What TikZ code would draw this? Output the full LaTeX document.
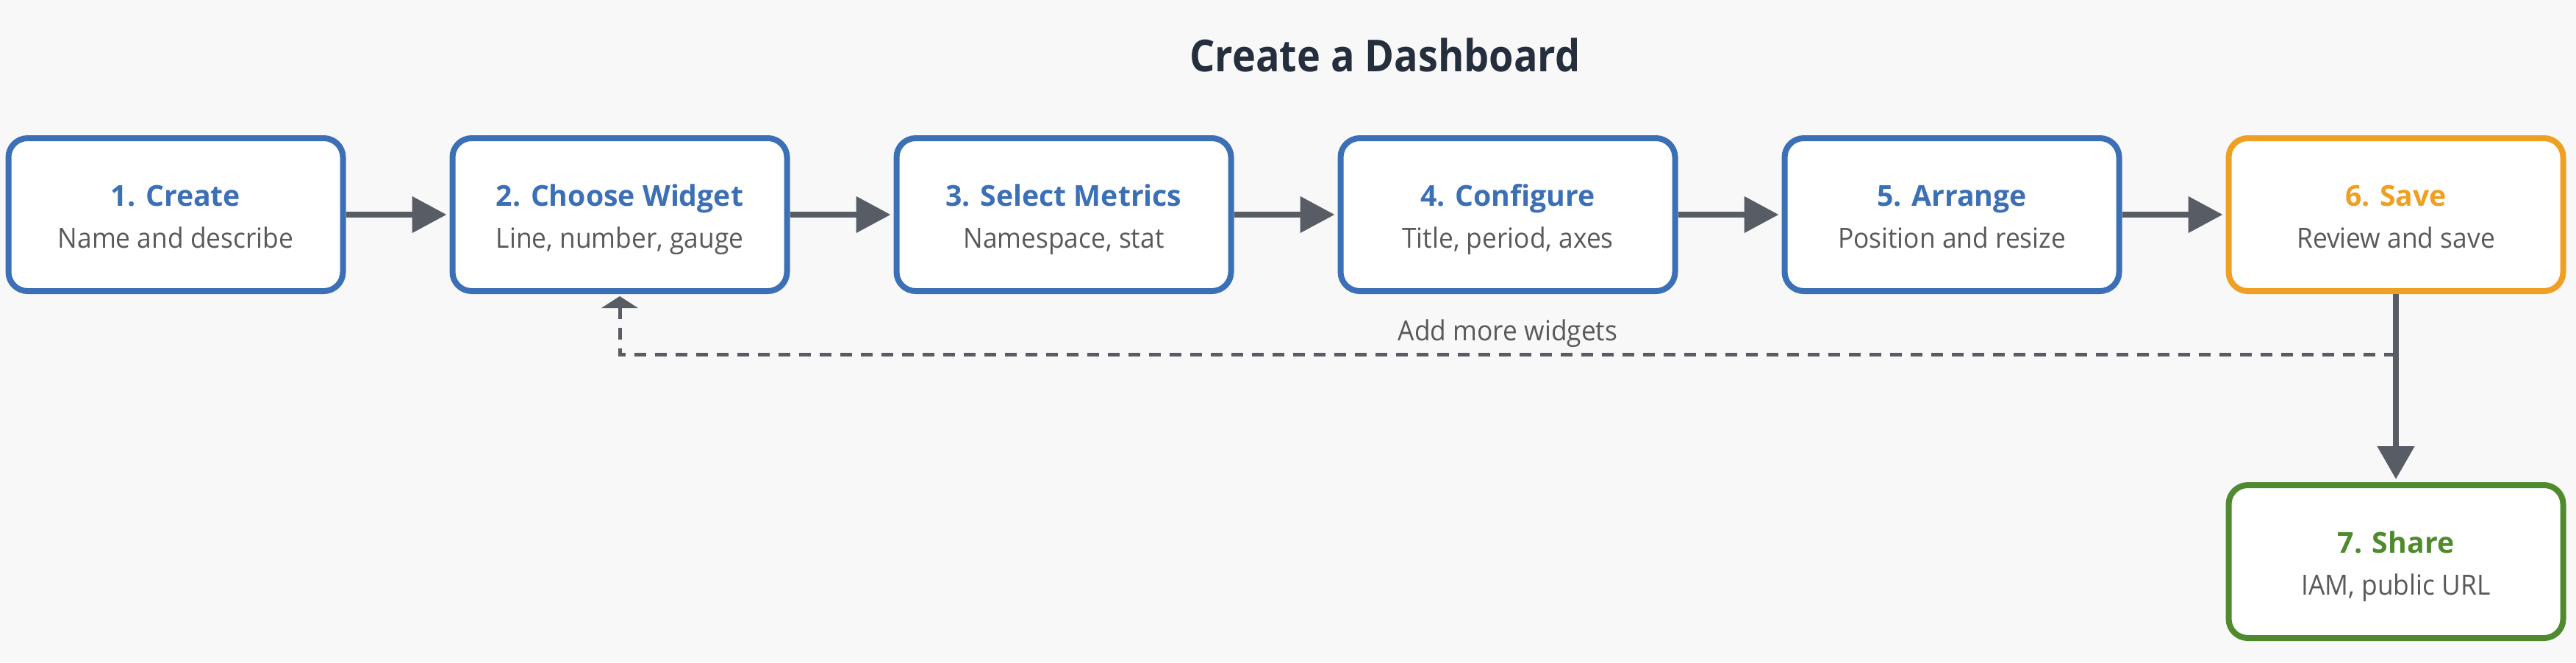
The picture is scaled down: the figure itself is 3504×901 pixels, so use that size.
\documentclass[tikz,border=0pt]{standalone}
\usepackage{fontspec}
\setmainfont{Open Sans}
\newfontfamily\subfont{Open Sans}[FakeStretch=0.935]
\newfontfamily\headfont{Open Sans}[FakeStretch=0.9]
\usetikzlibrary{arrows.meta,calc}
\definecolor{bgc}{HTML}{F8F8F8}
\definecolor{bluec}{HTML}{3B6FB6}
\definecolor{orangec}{HTML}{EFA024}
\definecolor{greenc}{HTML}{4F8A2E}
\definecolor{arrc}{HTML}{585C64}
\definecolor{subc}{HTML}{595959}
\definecolor{titlec}{HTML}{252E3D}
\begin{document}
\begin{tikzpicture}[x=0.5pt,y=-0.5pt,
  stepbox/.style={draw=#1, line width=4pt, fill=white, rounded corners=13pt,
    minimum width=227.5pt, minimum height=104pt, inner sep=0pt},
  ttl/.style={font=\fontsize{19.6}{22}\selectfont\bfseries, anchor=base, text=#1, inner sep=0pt},
  sub/.style={font=\subfont\fontsize{18.9}{22}\selectfont, anchor=base, text=subc, inner sep=0pt},
  flow/.style={draw=arrc, line width=4pt, shorten >=2pt,
    -{Triangle[length=23.5pt,width=24pt]}},
  flowv/.style={draw=arrc, line width=4pt, shorten >=2pt,
    -{Triangle[length=22.5pt,width=24.5pt]}},
  back/.style={draw=arrc, line width=2.5pt, dash pattern=on 8pt off 6pt,
    -{Triangle[length=8pt,width=24.5pt]}},
]
\fill[bgc] (0,0) rectangle (3504,901);
\useasboundingbox (0,0) rectangle (3504,901);

\node[font=\headfont\fontsize{30}{36}\selectfont\bfseries, text=titlec, anchor=base, inner sep=0pt] (title) at (1884,97) {Create a Dashboard};

\node[stepbox=bluec] (b1) at (239,292) {};
\node[stepbox=bluec] (b2) at (843,292) {};
\node[stepbox=bluec] (b3) at (1447,292) {};
\node[stepbox=bluec] (b4) at (2051,292) {};
\node[stepbox=bluec] (b5) at (2655,292) {};
\node[stepbox=orangec] (b6) at (3259,292) {};
\node[stepbox=greenc] (b7) at (3259,764) {};

\node[ttl=bluec] (b1t) at (239,280) {1. Create};
\node[sub] (b1s) at (239,337) {Name and describe};
\node[ttl=bluec] (b2t) at (843,280) {2. Choose Widget};
\node[sub] (b2s) at (843,337) {Line, number, gauge};
\node[ttl=bluec] (b3t) at (1447,280) {3. Select Metrics};
\node[sub] (b3s) at (1447,337) {Namespace, stat};
\node[ttl=bluec] (b4t) at (2051,280) {4. Configure};
\node[sub] (b4s) at (2051,337) {Title, period, axes};
\node[ttl=bluec] (b5t) at (2655,280) {5. Arrange};
\node[sub] (b5s) at (2655,337) {Position and resize};
\node[ttl=orangec] (b6t) at (3259,280) {6. Save};
\node[sub] (b6s) at (3259,337) {Review and save};
\node[ttl=greenc] (b7t) at (3259,752) {7. Share};
\node[sub] (b7s) at (3259,809) {IAM, public URL};

\draw[flow] (b1.east) -- (b2.west);
\draw[flow] (b2.east) -- (b3.west);
\draw[flow] (b3.east) -- (b4.west);
\draw[flow] (b4.east) -- (b5.west);
\draw[flow] (b5.east) -- (b6.west);
\draw[flowv] (b6.south) -- (b7.north);

\coordinate (fb) at ($(b6.south)+(0,82)$);
\draw[back] (fb) -| ($(b2.south)+(0,3)$);
\node[sub] (lbl) at (2051,463) {Add more widgets};
\end{tikzpicture}
\end{document}
